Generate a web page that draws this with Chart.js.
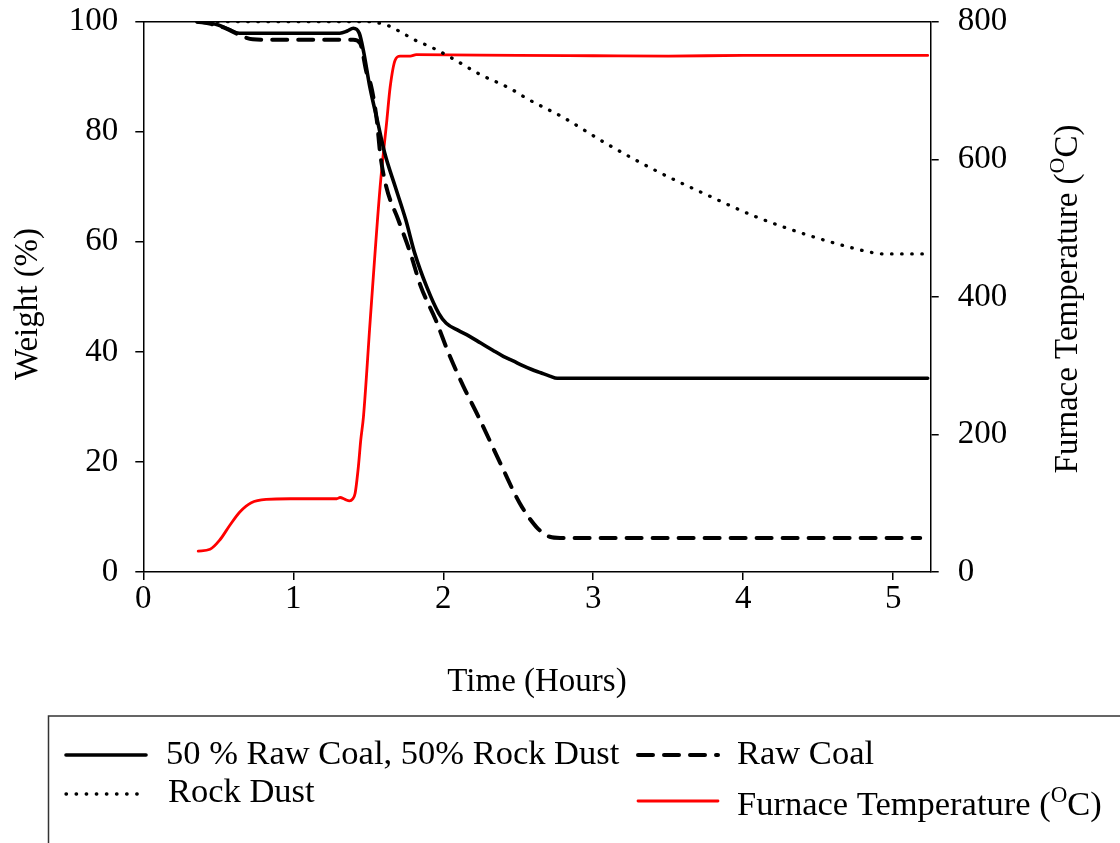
<!DOCTYPE html>
<html>
<head>
<meta charset="utf-8">
<title>Weight loss and furnace temperature</title>
<script src="https://cdn.jsdelivr.net/npm/chart.js@4.4.1/dist/chart.umd.min.js"></script>
<style>
  html, body { margin: 0; padding: 0; background: #fff; }
  canvas { display: block; }
</style>
</head>
<body>
<canvas id="chart" width="1120" height="843"></canvas>
<script>
// ── Data ───────────────────────────────────────────────────────────────────

const mixTime   = [0.36, 0.43, 0.50, 0.57, 0.64, 0.71, 1.00, 1.31, 1.36, 1.40, 1.44, 1.47, 1.51, 1.56, 1.61, 1.68, 1.75, 1.81, 1.89, 1.97, 2.02, 2.10, 2.17, 2.25, 2.33, 2.40, 2.47, 2.53, 2.59, 2.65, 2.71, 2.76, 3.50, 4.50, 5.23];
const mixWeight = [100, 99.8, 99.4, 98.6, 97.9, 97.9, 97.9, 97.9, 98.3, 98.8, 97.9, 94.4, 88.2, 82.1, 76.1, 70.0, 64.0, 57.9, 51.8, 47.0, 45.2, 43.9, 42.9, 41.6, 40.3, 39.2, 38.3, 37.5, 36.8, 36.2, 35.6, 35.2, 35.2, 35.2, 35.2];

const coalTime   = [0.36, 0.45, 0.55, 0.64, 0.73, 0.86, 1.10, 1.40, 1.445, 1.49, 1.52, 1.557, 1.58, 1.62, 1.70, 1.78, 1.85, 1.95, 2.035, 2.135, 2.235, 2.38, 2.51, 2.62, 2.67, 2.71, 2.78, 3.50, 4.50, 5.18];
const coalWeight = [100, 99.6, 98.8, 97.6, 96.8, 96.7, 96.7, 96.7, 96.1, 90.6, 88.2, 82.1, 75.9, 70.0, 64.0, 58.0, 51.9, 45.8, 39.8, 33.7, 28.2, 19.8, 12.5, 8.2, 7.0, 6.4, 6.2, 6.2, 6.2, 6.2];

const dustTime   = [0.36, 0.80, 1.20, 1.50, 1.58, 1.64, 1.75, 1.83, 1.91, 2.05, 2.24, 2.45, 2.56, 2.80, 3.09, 3.42, 3.76, 4.08, 4.41, 4.74, 4.87, 4.94, 5.20];
const dustWeight = [100, 100, 100, 100, 99.7, 99.2, 97.6, 96.4, 95.5, 93.5, 90.5, 87.8, 86.0, 82.6, 77.8, 72.9, 68.5, 64.6, 61.4, 58.8, 58.0, 57.8, 57.8];

const tempTime  = [0.366, 0.445, 0.51, 0.577, 0.645, 0.72, 0.82, 0.98, 1.29, 1.312, 1.345, 1.375, 1.395, 1.412, 1.434, 1.45, 1.468, 1.513, 1.579, 1.624, 1.646, 1.679, 1.713, 1.78, 1.82, 2.50, 3.00, 3.50, 4.00, 4.50, 5.23];
const tempValue = [30.5, 33, 46.5, 68, 87.7, 100.8, 105.6, 106.5, 106.5, 108.3, 105.5, 103.5, 106, 114, 153, 192, 226, 366, 560, 657, 705, 744, 750, 750, 752, 751, 750.5, 750, 751, 751, 751];

const xTicks    = [0, 1, 2, 3, 4, 5];
const weightMax = 100;
const tempMax   = 800;
const timeMax   = 5.25;

const LABELS = {
  mix:  '50 % Raw Coal, 50% Rock Dust',
  coal: 'Raw Coal',
  dust: 'Rock Dust',
  temp: 'Furnace Temperature ('
};

const FONT = "'Liberation Serif', 'Times New Roman', serif";

const toPoints = (xs, ys) => xs.map((x, i) => ({ x, y: ys[i] }));

// ── Frame, axis titles and legend ──────────────────────────────────────────

const decorPlugin = {
  id: 'decor',
  afterDraw(chart) {
    const { ctx, chartArea: a } = chart;
    const ds = chart.data.datasets;
    ctx.save();

    // top frame line
    ctx.strokeStyle = '#000';
    ctx.lineWidth = 1.5;
    ctx.beginPath();
    ctx.moveTo(a.left, a.top);
    ctx.lineTo(a.right, a.top);
    ctx.stroke();

    ctx.fillStyle = '#000';
    ctx.textBaseline = 'middle';

    // x title
    ctx.font = `33px ${FONT}`;
    ctx.textAlign = 'center';
    ctx.fillText('Time (Hours)', (a.left + a.right) / 2, 682);

    // left y title
    ctx.save();
    ctx.translate(28, 304);
    ctx.rotate(-Math.PI / 2);
    ctx.fillText('Weight (%)', 0, 0);
    ctx.restore();

    // right y title with superscript O
    const drawTempTitle = (x, y, size, rotate) => {
      ctx.save();
      ctx.translate(x, y);
      if (rotate) ctx.rotate(-Math.PI / 2);
      ctx.textAlign = 'left';
      ctx.font = `${size}px ${FONT}`;
      const w1 = ctx.measureText(LABELS.temp).width;
      const w3 = ctx.measureText('C)').width;
      ctx.font = `${Math.round(size * 0.66)}px ${FONT}`;
      const w2 = ctx.measureText('O').width;
      const start = rotate ? -(w1 + w2 + w3) / 2 : 0;
      ctx.font = `${size}px ${FONT}`;
      ctx.fillText(LABELS.temp, start, 0);
      ctx.font = `${Math.round(size * 0.66)}px ${FONT}`;
      ctx.fillText('O', start + w1, -size * 0.3);
      ctx.font = `${size}px ${FONT}`;
      ctx.fillText('C)', start + w1 + w2, 0);
      ctx.restore();
    };
    drawTempTitle(1068, 299, 33, true);

    // legend box (runs off the right and bottom edges)
    ctx.strokeStyle = '#333';
    ctx.lineWidth = 1.5;
    ctx.setLineDash([]);
    ctx.beginPath();
    ctx.moveTo(48.5, 843);
    ctx.lineTo(48.5, 716);
    ctx.lineTo(1120, 716);
    ctx.stroke();

    const sample = (d, x1, x2, y) => {
      ctx.save();
      ctx.strokeStyle = d.borderColor;
      ctx.lineWidth = d.borderWidth;
      ctx.lineCap = d.borderCapStyle || 'butt';
      ctx.setLineDash(d.borderDash || []);
      ctx.beginPath();
      ctx.moveTo(x1, y);
      ctx.lineTo(x2, y);
      ctx.stroke();
      ctx.restore();
    };

    sample(ds[0], 66, 146, 755);
    sample(ds[1], 638, 718, 755);
    sample(ds[2], 66, 138, 794);
    sample(ds[3], 638, 718, 801);

    ctx.fillStyle = '#000';
    ctx.textAlign = 'left';
    ctx.font = `34.5px ${FONT}`;
    ctx.fillText(LABELS.mix, 166, 755);
    ctx.fillText(LABELS.coal, 737, 755);
    ctx.fillText(LABELS.dust, 168, 793);
    drawTempTitle(737, 806, 34.5, false);

    ctx.restore();
  }
};

// ── Chart ──────────────────────────────────────────────────────────────────

const axisGrid = {
  drawOnChartArea: false,
  drawTicks: true,
  tickLength: 8,
  color: '#000',
  lineWidth: 1.5
};
const axisBorder = { display: true, color: '#000', width: 1.5 };

// pin the plot box to the reference's pixel frame
const fitY = width => s => {
  s.width = width;
  s.paddingTop = 0;
  s.paddingBottom = 0;
};

new Chart(document.getElementById('chart'), {
  type: 'line',
  data: {
    datasets: [
      {
        label: LABELS.mix,
        data: toPoints(mixTime, mixWeight),
        yAxisID: 'y',
        borderColor: '#000',
        borderWidth: 3.6,
        borderCapStyle: 'round'
      },
      {
        label: LABELS.coal,
        data: toPoints(coalTime, coalWeight),
        yAxisID: 'y',
        borderColor: '#000',
        borderWidth: 4,
        borderDash: [15, 11],
        borderCapStyle: 'round'
      },
      {
        label: LABELS.dust,
        data: toPoints(dustTime, dustWeight),
        yAxisID: 'y',
        borderColor: '#000',
        borderWidth: 3.3,
        borderDash: [0.5, 9.6],
        borderCapStyle: 'round'
      },
      {
        label: 'Furnace Temperature (°C)',
        data: toPoints(tempTime, tempValue),
        yAxisID: 'y1',
        borderColor: '#ff0000',
        borderWidth: 2.8,
        borderCapStyle: 'round'
      }
    ]
  },
  options: {
    responsive: false,
    animation: false,
    cubicInterpolationMode: 'monotone',
    elements: { point: { radius: 0 }, line: { fill: false } },
    layout: { padding: { top: 21.7, left: 0, right: 0, bottom: 0 } },
    plugins: {
      legend: { display: false },
      tooltip: { enabled: false }
    },
    scales: {
      x: {
        type: 'linear',
        min: 0,
        max: timeMax,
        afterBuildTicks: s => { s.ticks = xTicks.map(v => ({ value: v })); },
        ticks: { color: '#000', font: { family: FONT, size: 33 }, padding: 0, maxRotation: 0 },
        grid: axisGrid,
        border: axisBorder,
        afterFit: s => {
          s.height = 843 - 572;
          s.paddingLeft = 0;
          s.paddingRight = 0;
        }
      },
      y: {
        position: 'left',
        min: 0,
        max: weightMax,
        ticks: { stepSize: 20, color: '#000', font: { family: FONT, size: 33 }, padding: 17 },
        grid: axisGrid,
        border: axisBorder,
        afterFit: fitY(143.3)
      },
      y1: {
        position: 'right',
        min: 0,
        max: tempMax,
        ticks: { stepSize: 200, color: '#000', font: { family: FONT, size: 33 }, padding: 19 },
        grid: axisGrid,
        border: axisBorder,
        afterFit: fitY(1120 - 930.7)
      }
    }
  },
  plugins: [decorPlugin]
});
</script>
</body>
</html>
